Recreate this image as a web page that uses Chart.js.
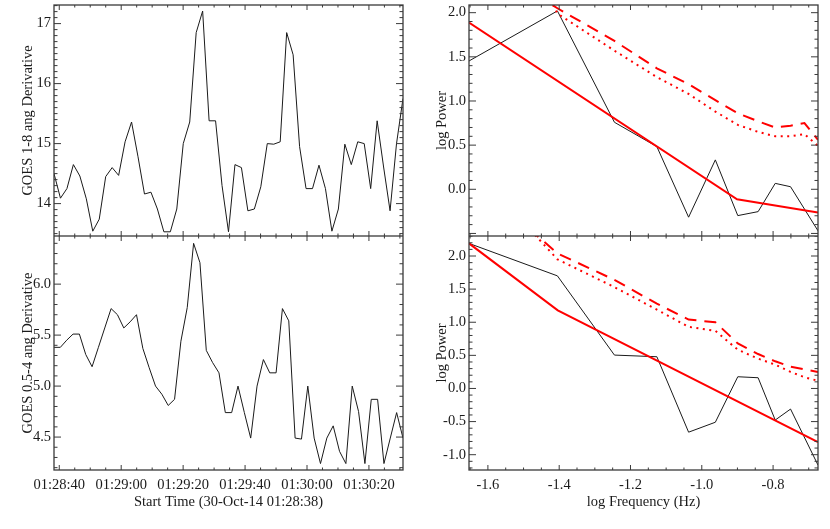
<!DOCTYPE html>
<html>
<head>
<meta charset="utf-8">
<script src="https://cdn.jsdelivr.net/npm/chart.js@4.4.1/dist/chart.umd.min.js"></script>
<style>
body { margin: 0; background: #fff; }
#wrap { position: relative; width: 830px; height: 529px; }
canvas { position: absolute; }
</style>
</head>
<body>
<div id="wrap">
<canvas id="tl" width="415" height="236" style="left:0px;top:0px"></canvas>
<canvas id="bl" width="415" height="293" style="left:0px;top:236px"></canvas>
<canvas id="tr" width="415" height="236" style="left:415px;top:0px"></canvas>
<canvas id="br" width="415" height="293" style="left:415px;top:236px"></canvas>
</div>
<script>
// time axis, seconds after 01:28:38
var timeStart = 0.3
var timeEnd = 113.0
var longStep = 2.087
var shortStep = 2.049
var timeTickVals = [2, 22, 42, 62, 82, 102]
var timeTickLabels = ['01:28:40', '01:29:00', '01:29:20', '01:29:40', '01:30:00', '01:30:20']

// GOES 1-8 ang derivative
var goesLong = [14.50, 14.09, 14.25, 14.65, 14.46, 14.08, 13.54, 13.74, 14.45, 14.60,
  14.47, 15.03, 15.36, 14.78, 14.16, 14.19, 13.91, 13.53, 13.53, 13.91,
  15.00, 15.36, 16.85, 17.21, 15.38, 15.38, 14.30, 13.53, 14.65, 14.60,
  13.88, 13.91, 14.28, 15.00, 14.99, 15.03, 16.85, 16.48, 14.95, 14.25,
  14.25, 14.64, 14.25, 13.54, 13.91, 14.99, 14.65, 15.03, 15.00, 14.25,
  15.38, 14.61, 13.88, 15.00, 15.75]

// GOES 0.5-4 ang derivative
var goesShort = [5.38, 5.38, 5.45, 5.51, 5.51, 5.31, 5.19, 5.38, 5.57, 5.76,
  5.70, 5.57, 5.63, 5.70, 5.37, 5.18, 5.00, 4.92, 4.81, 4.87,
  5.44, 5.77, 6.40, 6.21, 5.35, 5.23, 5.13, 4.74, 4.74, 5.00,
  4.74, 4.49, 5.00, 5.26, 5.13, 5.13, 5.76, 5.64, 4.49, 4.48,
  5.00, 4.49, 4.24, 4.49, 4.61, 4.36, 4.24, 5.00, 4.75, 4.24,
  4.87, 4.87, 4.24, 4.49, 4.74, 4.49]

// power spectra
var logFreq = [-1.653, -1.405, -1.245, -1.126, -1.037, -0.962, -0.899, -0.842, -0.794, -0.751, -0.674]
var powerLong = [1.453, 2.02, 0.759, 0.483, -0.316, 0.333, -0.298, -0.253, 0.067, 0.029, -0.47]
var powerShort = [2.19, 1.70, 0.504, 0.479, -0.66, -0.51, 0.177, 0.162, -0.477, -0.311, -1.157]

var fitLongX = [-1.653, -0.901, -0.674]
var fitLongY = [1.887, -0.113, -0.264]
var fitShortX = [-1.653, -1.404, -0.674]
var fitShortY = [2.19, 1.18, -0.81]

var confFreq = [-1.653, -1.405, -1.245, -1.126, -1.037, -0.962, -0.899, -0.842, -0.794, -0.751, -0.712, -0.674]
var conf99Long = [2.7, 2.05, 1.68, 1.37, 1.19, 1.01, 0.86, 0.77, 0.70, 0.72, 0.75, 0.56]
var conf95Long = [4.0, 1.99, 1.57, 1.27, 1.08, 0.88, 0.73, 0.65, 0.60, 0.60, 0.625, 0.49]
var conf99Short = [3.2, 2.04, 1.64, 1.28, 1.04, 1.00, 0.68, 0.52, 0.41, 0.33, 0.29, 0.25]
var conf95Short = [3.4, 1.95, 1.53, 1.19, 0.93, 0.87, 0.585, 0.45, 0.36, 0.25, 0.17, 0.115]

var freqTickVals = [-1.6, -1.4, -1.2, -1.0, -0.8]
var longTickVals = [14, 15, 16, 17]
var shortTickVals = [4.5, 5.0, 5.5, 6.0]
var powLongTickVals = [0.0, 0.5, 1.0, 1.5, 2.0]
var powShortTickVals = [-1.0, -0.5, 0.0, 0.5, 1.0, 1.5, 2.0]

var fontFamily = "'Liberation Serif', 'Times New Roman', serif"
var textColor = '#1a1a1a'

function ticksBetween(min, max, step, origin) {
  var out = []
  var k = Math.ceil((min - origin) / step - 1e-9)
  while (origin + k * step <= max + 1e-9) {
    out.push(origin + k * step)
    k++
  }
  return out
}

function isMajor(v, origin, step) {
  var r = (v - origin) / step
  return Math.abs(r - Math.round(r)) < 1e-6
}

// IDL style box with inward ticks on all four sides
var frameTicks = {
  id: 'frameTicks',
  afterDraw: function (chart, args, o) {
    var ctx = chart.ctx, a = chart.chartArea
    var xs = chart.scales.x, ys = chart.scales.y
    ctx.save()
    ctx.strokeStyle = '#3a3a3a'
    ctx.lineWidth = 1
    ctx.beginPath()
    ticksBetween(xs.min, xs.max, o.xMinor, o.xOrigin).forEach(function (v) {
      var px = xs.getPixelForValue(v)
      var len = isMajor(v, o.xOrigin, o.xMajor) ? 5 : 2.5
      ctx.moveTo(px, a.bottom); ctx.lineTo(px, a.bottom - len)
      ctx.moveTo(px, a.top); ctx.lineTo(px, a.top + len)
    })
    ticksBetween(ys.min, ys.max, o.yMinor, o.yOrigin).forEach(function (v) {
      var py = ys.getPixelForValue(v)
      var len = isMajor(v, o.yOrigin, o.yMajor) ? 7 : 3.5
      ctx.moveTo(a.left, py); ctx.lineTo(a.left + len, py)
      ctx.moveTo(a.right, py); ctx.lineTo(a.right - len, py)
    })
    ctx.stroke()
    ctx.lineWidth = 1.3
    ctx.strokeRect(a.left, a.top, a.right - a.left, a.bottom - a.top)
    ctx.restore()
  }
}

function xy(xs, ys) {
  return ys.map(function (v, i) { return { x: xs[i], y: v } })
}

function timeGrid(step, n) {
  var t = []
  for (var i = 0; i < n; i++) t.push(timeStart + i * step)
  return t
}

function blackLine(data) {
  return { data: data, borderColor: '#1a1a1a', borderWidth: 1, clip: 0 }
}
function redLine(data, dash) {
  return { data: data, borderColor: '#ff0000', borderWidth: 2, borderDash: dash || [], clip: 0 }
}

function panel(id, datasets, p) {
  var font = { family: fontFamily, size: 14.5 }
  new Chart(document.getElementById(id), {
    type: 'line',
    data: { datasets: datasets },
    plugins: [frameTicks],
    options: {
      responsive: false,
      animation: false,
      events: [],
      layout: { padding: { top: p.top, right: 12, bottom: 0, left: 0 } },
      elements: { point: { radius: 0 }, line: { tension: 0 } },
      plugins: {
        legend: { display: false },
        tooltip: { enabled: false },
        frameTicks: p.frame
      },
      scales: {
        x: {
          type: 'linear', min: p.xMin, max: p.xMax,
          grid: { display: false, drawTicks: false }, border: { display: false },
          ticks: {
            display: p.xLabels, color: textColor, font: font, padding: 6,
            autoSkip: false, maxRotation: 0,
            callback: p.xFormat
          },
          title: { display: !!p.xTitle, text: p.xTitle, color: textColor, font: font, padding: { top: 0, bottom: 18.3 } },
          afterBuildTicks: function (s) { s.ticks = p.xTicks.map(function (v) { return { value: v } }) },
          afterFit: function (s) { s.height = p.xHeight; s.paddingLeft = 0; s.paddingRight = 0 }
        },
        y: {
          type: 'linear', min: p.yMin, max: p.yMax,
          grid: { display: false, drawTicks: false }, border: { display: false },
          ticks: {
            color: textColor, font: font, padding: 3, autoSkip: false,
            callback: p.yFormat
          },
          title: { display: true, text: p.yTitle, color: textColor, font: font, padding: { top: p.yTitlePad, bottom: 0 } },
          afterBuildTicks: function (s) { s.ticks = p.yTicks.map(function (v) { return { value: v } }) },
          afterFit: function (s) { s.width = 54; s.paddingTop = 0; s.paddingBottom = 0 }
        }
      }
    }
  })
}

function timeLabel(v, i) { return timeTickLabels[i] }
function fix1(v) { return v.toFixed(1) }
function fix0(v) { return v.toFixed(0) }

var timeFrame = { xMajor: 20, xMinor: 5, xOrigin: 2 }
var freqFrame = { xMajor: 0.2, xMinor: 0.05, xOrigin: 0 }

panel('tl', [blackLine(xy(timeGrid(longStep, goesLong.length), goesLong))], {
  top: 5, xMin: timeStart, xMax: timeEnd, xTicks: timeTickVals, xLabels: false, xHeight: 0,
  xFormat: timeLabel, yMin: 13.46, yMax: 17.31, yTicks: longTickVals, yFormat: fix0,
  yTitle: 'GOES 1-8 ang Derivative', yTitlePad: 19.3,
  frame: Object.assign({ yMajor: 1, yMinor: 0.1, yOrigin: 0 }, timeFrame)
})

panel('bl', [blackLine(xy(timeGrid(shortStep, goesShort.length), goesShort))], {
  top: 0, xMin: timeStart, xMax: timeEnd, xTicks: timeTickVals, xLabels: true, xHeight: 59,
  xFormat: timeLabel, xTitle: 'Start Time (30-Oct-14 01:28:38)',
  yMin: 4.177, yMax: 6.472, yTicks: shortTickVals, yFormat: fix1,
  yTitle: 'GOES 0.5-4 ang Derivative', yTitlePad: 19.3,
  frame: Object.assign({ yMajor: 0.5, yMinor: 0.1, yOrigin: 0 }, timeFrame)
})

panel('tr', [
  redLine(xy(confFreq, conf99Long), [12, 8]),
  redLine(xy(confFreq, conf95Long), [2, 4.5]),
  redLine(xy(fitLongX, fitLongY)),
  blackLine(xy(logFreq, powerLong))
], {
  top: 5, xMin: -1.653, xMax: -0.674, xTicks: freqTickVals, xLabels: false, xHeight: 0,
  xFormat: fix1, yMin: -0.529, yMax: 2.087, yTicks: powLongTickVals, yFormat: fix1,
  yTitle: 'log Power', yTitlePad: 18,
  frame: Object.assign({ yMajor: 0.5, yMinor: 0.1, yOrigin: 0 }, freqFrame)
})

panel('br', [
  redLine(xy(confFreq, conf99Short), [12, 8]),
  redLine(xy(confFreq, conf95Short), [2, 4.5]),
  redLine(xy(fitShortX, fitShortY)),
  blackLine(xy(logFreq, powerShort))
], {
  top: 0, xMin: -1.653, xMax: -0.674, xTicks: freqTickVals, xLabels: true, xHeight: 59,
  xFormat: fix1, xTitle: 'log Frequency (Hz)',
  yMin: -1.231, yMax: 2.302, yTicks: powShortTickVals, yFormat: fix1,
  yTitle: 'log Power', yTitlePad: 18,
  frame: Object.assign({ yMajor: 0.5, yMinor: 0.1, yOrigin: 0 }, freqFrame)
})
</script>
</body>
</html>
